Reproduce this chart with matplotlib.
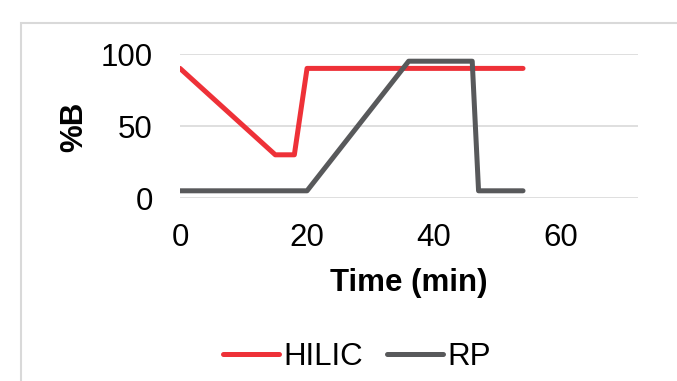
import matplotlib
matplotlib.use("Agg")
import matplotlib.pyplot as plt
from matplotlib.patches import Rectangle

# gradient programs (time in min, %B)
hilic_time = [0, 15, 18, 20, 54]
hilic_b = [90, 30, 30, 90, 90]
rp_time = [0, 20, 36, 46, 47, 54]
rp_b = [5, 5, 95, 95, 5, 5]

x_ticks = [0, 20, 40, 60]
y_ticks = [0, 50, 100]

plt.rcParams['font.family'] = ['Liberation Sans', 'DejaVu Sans']

W, H = 677, 381
FS = 22.5
fig = plt.figure(figsize=(W / 100, H / 100), dpi=100)
fig.patch.set_facecolor('white')

# chart area border (runs off the right and bottom edge)
fig.patches.append(Rectangle((21 / W, -0.05), 1.2, 1 - 23 / H + 0.05,
                             transform=fig.transFigure, fill=False,
                             edgecolor='#d9d9d9', linewidth=1.5))

ax = fig.add_axes([180 / W, 1 - 198 / H, 458 / W, 144 / H])
ax.set_facecolor('none')

ax.plot(hilic_time, hilic_b, color='#ee3138', lw=3.6, label='HILIC',
        solid_joinstyle='round', solid_capstyle='round', zorder=3)
ax.plot(rp_time, rp_b, color='#58595b', lw=3.6, label='RP',
        solid_joinstyle='round', solid_capstyle='round', zorder=3)

ax.set_xlim(0, 72.1)
ax.set_ylim(0, 100)
ax.set_xticks(x_ticks)
ax.set_yticks(y_ticks)
ax.grid(axis='y', color='#d9d9d9', lw=1.2)
ax.tick_params(length=0, labelsize=FS, colors='black')
ax.tick_params(axis='y', pad=19.5)
ax.tick_params(axis='x', pad=18)
for s in ax.spines.values():
    s.set_visible(False)

ax.set_xlabel('Time (min)', fontsize=FS, fontweight='bold')
ax.xaxis.set_label_coords(0.5, (198 - 283) / 144)
ax.xaxis.label.set_va('center')

fig.text(74 / W, 1 - 127 / H, '%B', rotation=90, fontsize=FS,
         fontweight='bold', ha='center', va='center')

fig.legend(loc='center', bbox_to_anchor=(357 / W, 1 - 357 / H), ncol=2,
           frameon=False, fontsize=FS, handlelength=1.8, handletextpad=0.15,
           columnspacing=0.75, borderpad=0, borderaxespad=0)

fig.savefig('out.png', dpi=100, facecolor='white')
